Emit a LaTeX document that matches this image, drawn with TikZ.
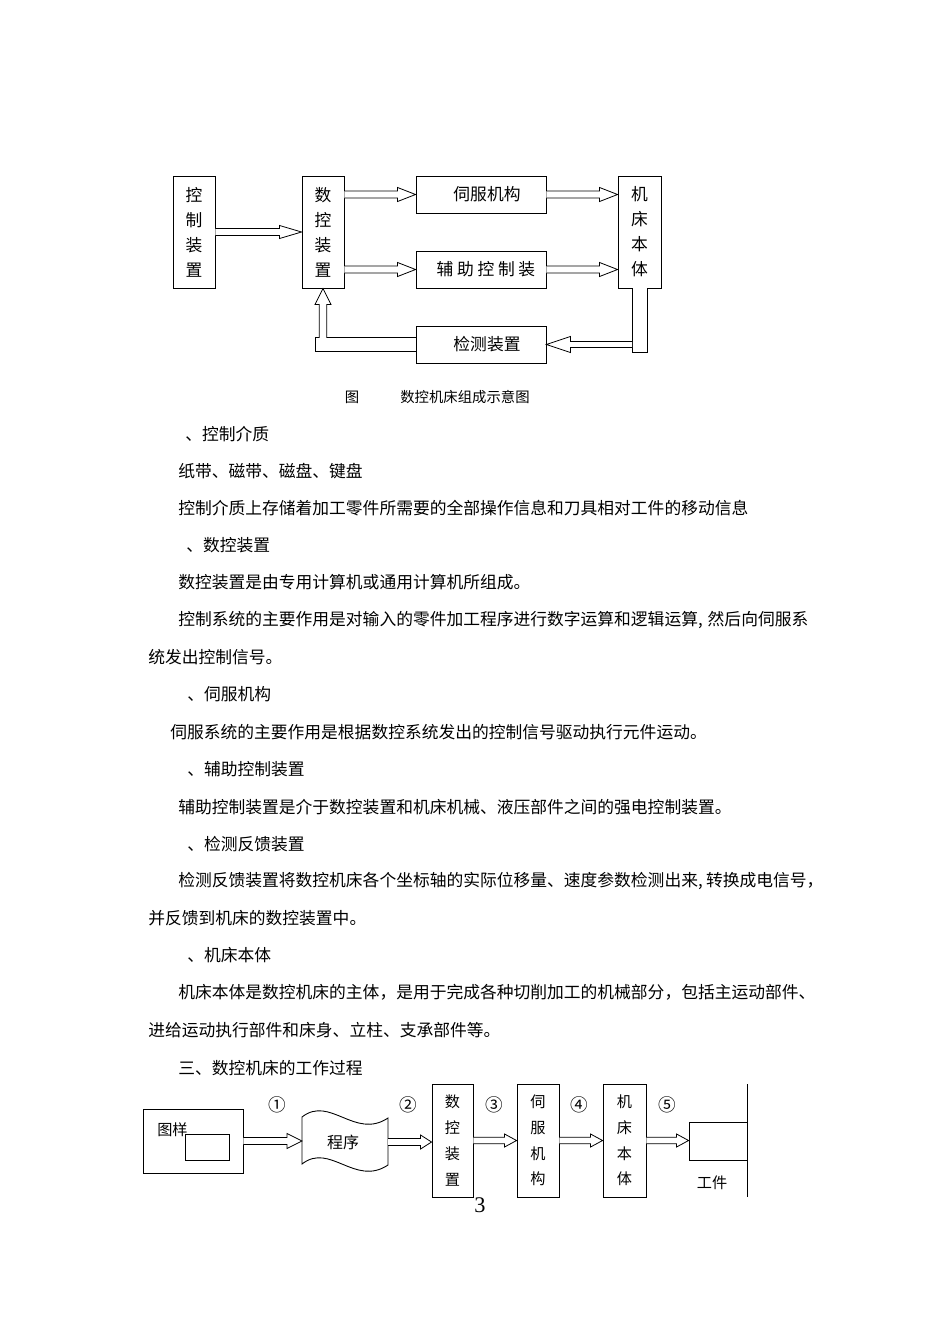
\documentclass[tikz,border=0pt]{standalone}
\usepackage{fontspec}
\setmainfont{Noto Sans CJK SC}
\newfontfamily\numfont{Liberation Serif}
\usetikzlibrary{calc}
\newdimen\pxu \pxu=0.6263pt
\newcommand\blkarrow[5]{\draw[arr] let \p1=(#1), \p2=(#2) in
  (\x1,\y1+#3*\pxu) -- (\x2-#5*\pxu,\y1+#3*\pxu) -- (\x2-#5*\pxu,\y1+#4*\pxu) -- (\x2,\y1)
  -- (\x2-#5*\pxu,\y1-#4*\pxu) -- (\x2-#5*\pxu,\y1-#3*\pxu) -- (\x1,\y1-#3*\pxu);}
\tikzset{
  box/.style={draw, line width=0.55pt, inner sep=0pt, fill=white},
  arr/.style={draw, line width=0.5pt, fill=white, line join=miter},
  lbl/.style={inner sep=0pt, font=\fontsize{10.5pt}{12pt}\selectfont},
  vtxt/.style={align=center, font=\fontsize{10.5pt}{15.66pt}\selectfont},
  vtxtb/.style={align=center, font=\fontsize{9.5pt}{16.1pt}\selectfont},
  smalltxt/.style={inner sep=0pt, font=\fontsize{9.5pt}{11pt}\selectfont},
  circtxt/.style={inner sep=0pt, font=\fontsize{11pt}{12pt}\selectfont},
  captxt/.style={inner sep=0pt, font=\fontsize{9pt}{11pt}\selectfont},
  bodytxt/.style={anchor=west, inner sep=0pt, font=\fontsize{10.5pt}{12pt}\selectfont},
  wallline/.style={draw, line width=0.55pt},
}
\begin{document}
\begin{tikzpicture}[x=0.6263pt, y=-0.6263pt]
\useasboundingbox (0,0) rectangle (950,1344);

% ---------- top diagram ----------
\node[box, vtxt, minimum width=42*\pxu, minimum height=112*\pxu] (ctrl) at (194,232) {控\\制\\装\\置};
\node[box, vtxt, minimum width=42*\pxu, minimum height=112*\pxu] (nc) at (323,232) {数\\控\\装\\置};
\node[box, minimum width=130*\pxu, minimum height=37*\pxu] (servo) at (481,194.5) {};
\node[box, minimum width=130*\pxu, minimum height=37*\pxu] (aux) at (481,269.5) {};
\node[box, minimum width=130*\pxu, minimum height=37*\pxu] (detect) at (481,344.5) {};
\node[box, vtxt, minimum width=43*\pxu, minimum height=112*\pxu] (bed) at (639.5,232) {机\\床\\本\\体};
\node[lbl] (servotxt) at ($(servo.center)+(6,0)$) {伺服机构};
\node[lbl] (auxtxt) at ($(aux.center)+(5,0)$) {辅\hspace{2.3pt}助\hspace{2.3pt}控\hspace{2.3pt}制\hspace{2.3pt}装};
\node[lbl] (detecttxt) at ($(detect.center)+(6,0)$) {检测装置};

\blkarrow{ctrl.east}{nc.west}{3.5}{6.5}{22}
\blkarrow{nc.east |- servo.west}{servo.west}{3.5}{7}{18}
\blkarrow{nc.east |- aux.west}{aux.west}{3.5}{7}{18}
\blkarrow{servo.east}{bed.west |- servo.east}{3.5}{7}{18}
\blkarrow{aux.east}{bed.west |- aux.east}{3.5}{7}{18}

% bar below machine body and arrow to detection
\draw[arr] let \p1=(bed.south), \p2=(detect.west) in
  (\x1-7.5*\pxu,\y1) -- (\x1-7.5*\pxu,\y2-7.5*\pxu) -- (\x1+7.5*\pxu,\y2-7.5*\pxu) -- (\x1+7.5*\pxu,\y1);
\draw[arr] let \p1=(bed.south), \p2=(detect.east) in
  (\x1-7.5*\pxu,\y2+3*\pxu) -- (\x2+24*\pxu,\y2+3*\pxu) -- (\x2+24*\pxu,\y2+8*\pxu) -- (\x2,\y2)
  -- (\x2+24*\pxu,\y2-8*\pxu) -- (\x2+24*\pxu,\y2-3*\pxu) -- (\x1-7.5*\pxu,\y2-3*\pxu);

% feedback from detection to NC device
\draw[arr] let \p1=(detect.west), \p2=(nc.south) in
  (\x1,\y1+6.7*\pxu) -- (\x2-8*\pxu,\y1+6.7*\pxu) -- (\x2-8*\pxu,\y1-6.7*\pxu) -- (\x1,\y1-6.7*\pxu);
\draw[arr] let \p1=(nc.south), \p2=(detect.west) in
  (\x1-3.8*\pxu,\y2+6.7*\pxu) -- (\x1-3.8*\pxu,\y1-16*\pxu) -- (\x1-8*\pxu,\y1-16*\pxu) -- (\x1,\y1)
  -- (\x1+8*\pxu,\y1-16*\pxu) -- (\x1+3.8*\pxu,\y1-16*\pxu) -- (\x1+3.8*\pxu,\y2+6.7*\pxu);

\node[captxt] (figlbl) at (352,397) {图};
\node[captxt, anchor=west] (figcap) at (400,397) {数控机床组成示意图};

% ---------- body text ----------
\node[bodytxt] (t1) at (185,434) {、控制介质};
\node[bodytxt] (t2) at (178,471) {纸带、磁带、磁盘、键盘};
\node[bodytxt] (t3) at (178,508) {控制介质上存储着加工零件所需要的全部操作信息和刀具相对工件的移动信息};
\node[bodytxt] (t4) at (186,545) {、数控装置};
\node[bodytxt] (t5) at (178,582) {数控装置是由专用计算机或通用计算机所组成。};
\node[bodytxt] (t6) at (178,620) {控制系统的主要作用是对输入的零件加工程序进行数字运算和逻辑运算,\hspace{0.3em}然后向伺服系};
\node[bodytxt] (t7) at (148,657) {统发出控制信号。};
\node[bodytxt] (t8) at (187,694) {、伺服机构};
\node[bodytxt] (t9) at (170,732) {伺服系统的主要作用是根据数控系统发出的控制信号驱动执行元件运动。};
\node[bodytxt] (t10) at (187,769) {、辅助控制装置};
\node[bodytxt] (t11) at (178,807) {辅助控制装置是介于数控装置和机床机械、液压部件之间的强电控制装置。};
\node[bodytxt] (t12) at (187,844) {、检测反馈装置};
\node[bodytxt] (t13) at (178,881) {检测反馈装置将数控机床各个坐标轴的实际位移量、速度参数检测出来,\hspace{0.2em}转换成电信号，};
\node[bodytxt] (t14) at (148,918) {并反馈到机床的数控装置中。};
\node[bodytxt] (t15) at (187,955) {、机床本体};
\node[bodytxt] (t16) at (178,992) {机床本体是数控机床的主体，是用于完成各种切削加工的机械部分，包括主运动部件、};
\node[bodytxt] (t17) at (148,1030) {进给运动执行部件和床身、立柱、支承部件等。};
\node[bodytxt] (t18) at (178,1068) {三、数控机床的工作过程};

% ---------- bottom diagram ----------
\node[box, minimum width=100*\pxu, minimum height=64*\pxu] (sample) at (193,1141) {};
\node[box, minimum width=44*\pxu, minimum height=26*\pxu] (sampleinner) at (207,1147) {};
\node[smalltxt, anchor=west] (sampletxt) at (157,1130) {图样};

\coordinate (progW) at (302,1142);
\coordinate (progE) at (388,1142);
\draw[box] (302,1117) .. controls (330,1095) and (355,1140) .. (388,1118) -- (388,1165)
  .. controls (355,1187) and (330,1142) .. (302,1164) -- cycle;
\node[smalltxt, font=\fontsize{10pt}{12pt}\selectfont] (progtxt) at (343,1142) {程序};

\node[box, vtxtb, minimum width=41*\pxu, minimum height=113*\pxu] (nc2) at (452.5,1140.5) {数\\控\\装\\置};
\node[box, vtxtb, minimum width=42*\pxu, minimum height=113*\pxu] (servo2) at (538,1140.5) {伺\\服\\机\\构};
\node[box, vtxtb, minimum width=43*\pxu, minimum height=113*\pxu] (bed2) at (624.5,1140.5) {机\\床\\本\\体};
\node[box, minimum width=58*\pxu, minimum height=38*\pxu] (work) at (718,1141) {};
\node[smalltxt] (worktxt) at (712,1183) {工件};
\coordinate (wallT) at (747,1084);
\coordinate (wallB) at (747,1197);
\draw[wallline] (wallT) -- (wallB);

\blkarrow{sample.east}{progW}{3.5}{7.5}{15}
\blkarrow{progE}{progE -| nc2.west}{3.5}{7}{11}
\blkarrow{nc2.east}{servo2.west}{3.2}{6.5}{12}
\blkarrow{servo2.east}{bed2.west}{3.2}{6.5}{12}
\blkarrow{bed2.east}{work.west}{3.2}{6.5}{12}

\node[circtxt] (n1) at (277,1105) {①};
\node[circtxt] (n2) at (408,1105) {②};
\node[circtxt] (n3) at (494,1105) {③};
\node[circtxt] (n4) at (579,1105) {④};
\node[circtxt] (n5) at (667,1105) {⑤};

\node[inner sep=0pt, font=\numfont\fontsize{14pt}{16pt}\selectfont] (pagenum) at (480,1205) {3};
\end{tikzpicture}
\end{document}
